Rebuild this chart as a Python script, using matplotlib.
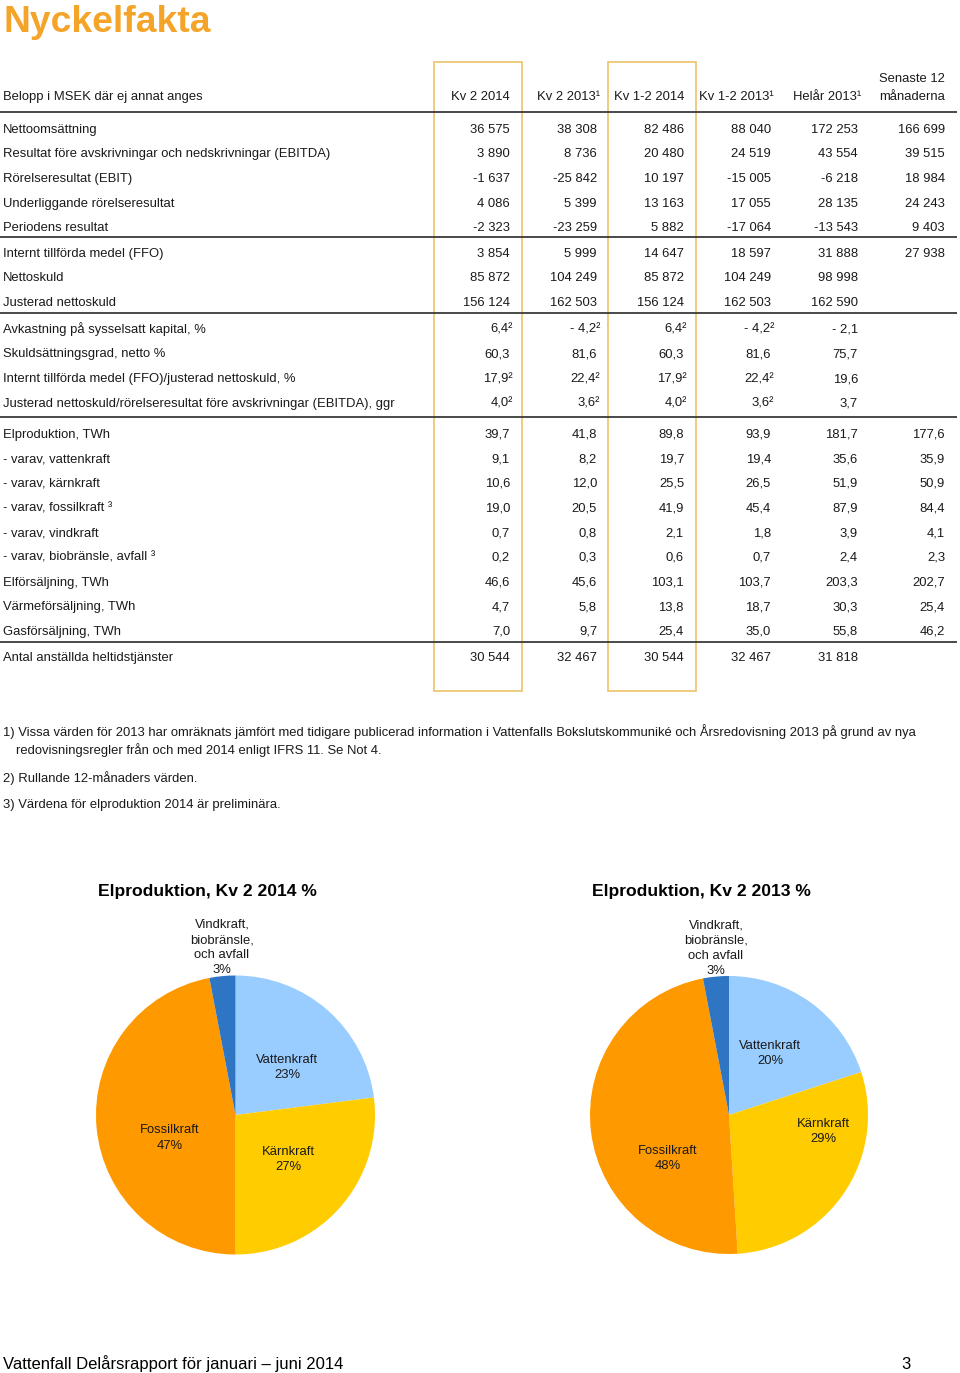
"""Nyckelfakta page: key figures table plus two pie charts of power generation"""

import matplotlib
matplotlib.use("Agg")
import matplotlib.pyplot as plt

plt.rcParams['font.family'] = ['Liberation Sans', 'DejaVu Sans']

# ---- data -------------------------------------------------------------
col_headers = ["Kv 2 2014", "Kv 2 2013¹", "Kv 1-2 2014", "Kv 1-2 2013¹", "Helår 2013¹", "Senaste 12\nmånaderna"]
unit_header = "Belopp i MSEK där ej annat anges"

msek_rows = [
    ("Nettoomsättning", [36575, 38308, 82486, 88040, 172253, 166699]),
    ("Resultat före avskrivningar och nedskrivningar (EBITDA)", [3890, 8736, 20480, 24519, 43554, 39515]),
    ("Rörelseresultat (EBIT)", [-1637, -25842, 10197, -15005, -6218, 18984]),
    ("Underliggande rörelseresultat", [4086, 5399, 13163, 17055, 28135, 24243]),
    ("Periodens resultat", [-2323, -23259, 5882, -17064, -13543, 9403]),
]
debt_rows = [
    ("Internt tillförda medel (FFO)", [3854, 5999, 14647, 18597, 31888, 27938]),
    ("Nettoskuld", [85872, 104249, 85872, 104249, 98998, None]),
    ("Justerad nettoskuld", [156124, 162503, 156124, 162503, 162590, None]),
]
ratio_rows = [
    ("Avkastning på sysselsatt kapital, %", [6.4, -4.2, 6.4, -4.2, -2.1, None]),
    ("Skuldsättningsgrad, netto %", [60.3, 81.6, 60.3, 81.6, 75.7, None]),
    ("Internt tillförda medel (FFO)/justerad nettoskuld, %", [17.9, 22.4, 17.9, 22.4, 19.6, None]),
    ("Justerad nettoskuld/rörelseresultat före avskrivningar (EBITDA), ggr", [4.0, 3.6, 4.0, 3.6, 3.7, None]),
]
# ratios marked with footnote 2 (rolling 12 months) in the quarter columns
rolling_ratio_labels = [
    "Avkastning på sysselsatt kapital, %",
    "Internt tillförda medel (FFO)/justerad nettoskuld, %",
    "Justerad nettoskuld/rörelseresultat före avskrivningar (EBITDA), ggr",
]
twh_rows = [
    ("Elproduktion, TWh", [39.7, 41.8, 89.8, 93.9, 181.7, 177.6]),
    ("- varav, vattenkraft", [9.1, 8.2, 19.7, 19.4, 35.6, 35.9]),
    ("- varav, kärnkraft", [10.6, 12.0, 25.5, 26.5, 51.9, 50.9]),
    ("- varav, fossilkraft ³", [19.0, 20.5, 41.9, 45.4, 87.9, 84.4]),
    ("- varav, vindkraft", [0.7, 0.8, 2.1, 1.8, 3.9, 4.1]),
    ("- varav, biobränsle, avfall ³", [0.2, 0.3, 0.6, 0.7, 2.4, 2.3]),
    ("Elförsäljning, TWh", [46.6, 45.6, 103.1, 103.7, 203.3, 202.7]),
    ("Värmeförsäljning, TWh", [4.7, 5.8, 13.8, 18.7, 30.3, 25.4]),
    ("Gasförsäljning, TWh", [7.0, 9.7, 25.4, 35.0, 55.8, 46.2]),
]
staff_rows = [
    ("Antal anställda heltidstjänster", [30544, 32467, 30544, 32467, 31818, None]),
]

footnotes = [
    "1) Vissa värden för 2013 har omräknats jämfört med tidigare publicerad information i Vattenfalls "
    "Bokslutskommuniké och Årsredovisning 2013 på grund av nya",
    "redovisningsregler från och med 2014 enligt IFRS 11. Se Not 4.",
    "2) Rullande 12-månaders värden.",
    "3) Värdena för elproduktion 2014 är preliminära.",
]

pie_labels = ["Vattenkraft", "Kärnkraft", "Fossilkraft", "Vindkraft,\nbiobränsle,\noch avfall"]
pie_2014 = [23, 27, 47, 3]
pie_2013 = [20, 29, 48, 3]
pie_colors = ["#99CCFF", "#FFCC00", "#FF9900", "#2E75C4"]

# ---- helpers ----------------------------------------------------------


def fmt_int(v):
    s = f"{abs(v):,}".replace(",", " ")
    return ("-" + s) if v < 0 else s


def fmt_dec(v):
    s = f"{abs(v):.1f}".replace(".", ",")
    return ("- " + s) if v < 0 else s


W, H = 960, 1373
fig = plt.figure(figsize=(W / 100, H / 100), dpi=100)
ax = fig.add_axes([0, 0, 1, 1])
ax.set_xlim(0, W)
ax.set_ylim(H, 0)
ax.axis("off")

FS = 9.4
TXT = "#1a1a1a"
BL = 4.7  # half cap height in px: row centre -> baseline
col_right = [510, 597, 684, 771, 858, 945]


def put(x, y, s, **kw):
    """text whose cap-height centre sits at y (pixel coords)"""
    kw.setdefault("fontsize", FS)
    kw.setdefault("color", TXT)
    off = BL * kw["fontsize"] / FS
    return ax.text(x, y + off, s, va="baseline", **kw)


ax.text(3, 32, "Nyckelfakta", fontsize=26.8, fontweight="bold", color="#F4A428", va="baseline", ha="left")

# highlighted column boxes
for c in (0, 2):
    ax.add_patch(plt.Rectangle((col_right[c] - 76, 62), 88, 629, fill=False,
                               edgecolor="#EBC46A", linewidth=1.2))

# header
put(3, 95, unit_header)
for c, h in enumerate(col_headers):
    if "\n" in h:
        top, bottom = h.split("\n")
        put(col_right[c], 77, top, ha="right")
        put(col_right[c], 95, bottom, ha="right")
    else:
        xr = col_right[c] + (3 if h.endswith("¹") else 0)
        put(xr, 95, h, ha="right")

ROW_H = 24.65


def draw_block(rows, y0, kind):
    y = y0
    for label, vals in rows:
        put(3, y, label)
        sup = label in rolling_ratio_labels
        for c, v in enumerate(vals):
            if v is None:
                continue
            s = fmt_int(v) if kind == "int" else fmt_dec(v)
            xr = col_right[c]
            if sup and c < 4:
                s += "²"
                xr += 3
            put(xr, y, s, ha="right")
        y += ROW_H
    return y


draw_block(msek_rows, 128, "int")
draw_block(debt_rows, 252, "int")
draw_block(ratio_rows, 328, "dec")
draw_block(twh_rows, 433, "dec")
draw_block(staff_rows, 656, "int")

for yl in (112, 237, 313, 417, 642):
    ax.plot([0, 957], [yl, yl], color="#3a3a3a", linewidth=1.3, solid_capstyle="butt")

# footnotes
put(3, 731, footnotes[0])
put(16, 749, footnotes[1])
put(3, 777, footnotes[2])
put(3, 803, footnotes[3])

# page footer
put(3, 1363, "Vattenfall Delårsrapport för januari – juni 2014", fontsize=12, color="black")
put(911, 1363, "3", fontsize=12, color="black", ha="right")

# ---- pies -------------------------------------------------------------
# label offsets in pie-radius units (Excel "best fit" positions)
pos_2014 = [(0.37, 0.34), (0.376, -0.32), (-0.47, -0.165), (-0.097, 1.2)]
pos_2013 = [(0.295, 0.44), (0.68, -0.12), (-0.44, -0.31), (-0.094, 1.2)]


def draw_pie(cx, cy, r, values, positions, title, title_x):
    pax = fig.add_axes([(cx - r) / W, (H - cy - r) / H, 2 * r / W, 2 * r / H])
    pax.pie(values, colors=pie_colors, startangle=90, counterclock=False,
            wedgeprops=dict(linewidth=0), radius=1)
    pax.set_xlim(-1, 1)
    pax.set_ylim(-1, 1)
    pax.set_aspect("equal")
    pax.axis("off")
    for lab, v, (px, py) in zip(pie_labels, values, positions):
        pax.text(px, py, f"{lab}\n{v}%", fontsize=FS, color="#1a1a1a", ha="center", va="center",
                 linespacing=1.35, clip_on=False)
    put(title_x, 890, title, fontsize=12.6, fontweight="bold", color="black")


draw_pie(235.5, 1115, 139.5, pie_2014, pos_2014, "Elproduktion, Kv 2 2014 %", 98)
draw_pie(729, 1115, 139, pie_2013, pos_2013, "Elproduktion, Kv 2 2013 %", 592)

fig.savefig("out.png", dpi=100)
